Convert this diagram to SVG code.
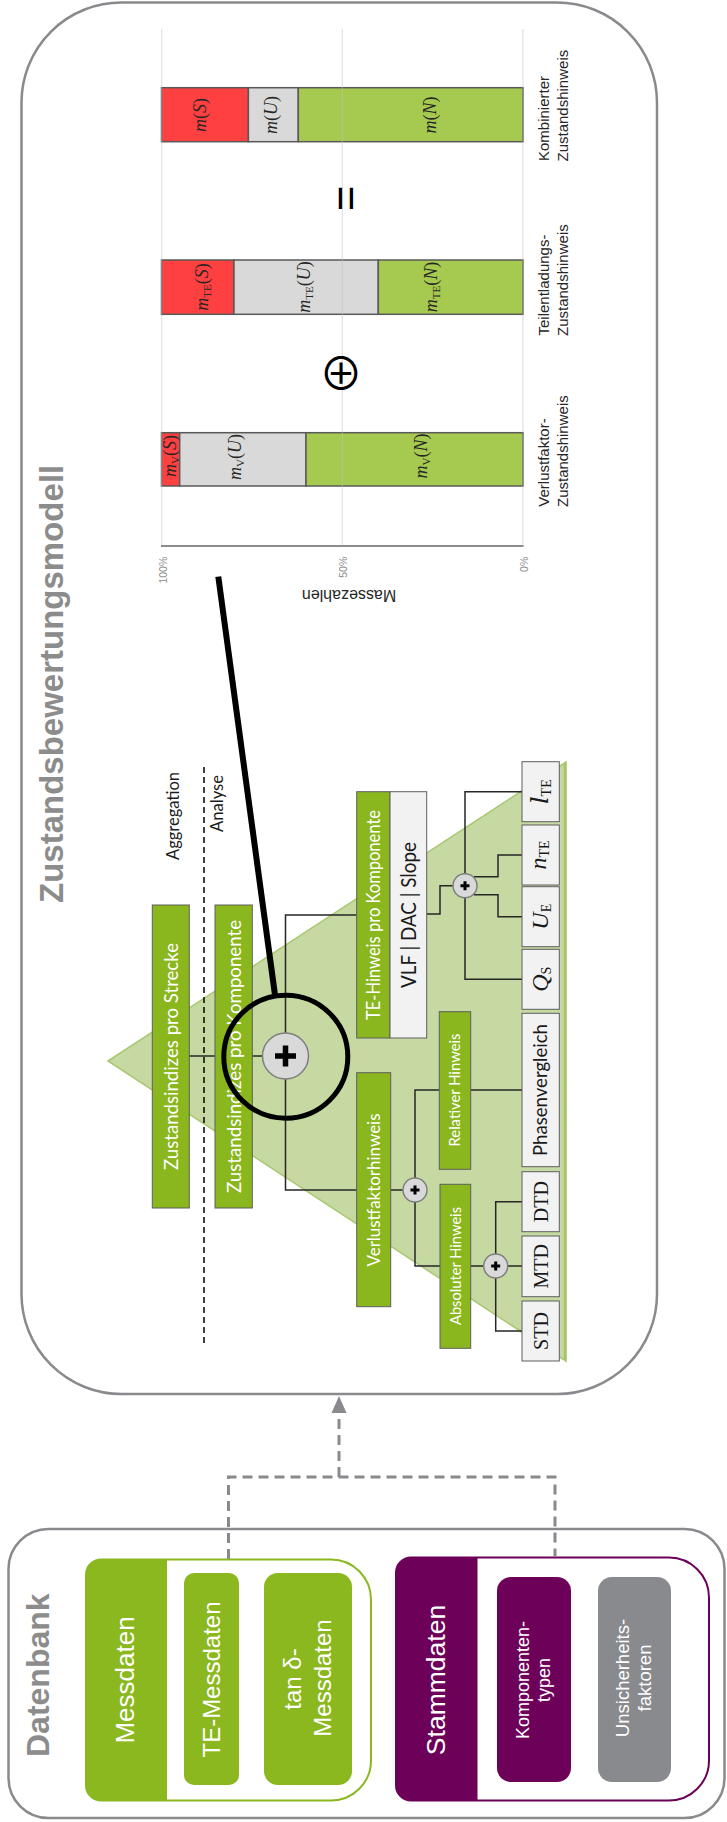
<svg xmlns="http://www.w3.org/2000/svg" width="727" height="1822" viewBox="0 0 727 1822">
<style>
.frame{fill:#fff;stroke:#8a8a8e;stroke-width:2.5}
.title{font-family:"Liberation Sans",Arial,sans-serif;font-weight:bold;fill:#8c8c8c}
.db{font-family:"Liberation Sans",Arial,sans-serif;fill:#fff;text-anchor:middle}
.gbox{fill:#8ab61e;stroke:#5e5e5e;stroke-width:1}
.wbox{fill:#f2f2f2;stroke:#5e5e5e;stroke-width:1}
.leaf{fill:#f2f2f2;stroke:#5e5e5e;stroke-width:1}
.wt{font-family:Lato,"Liberation Sans",sans-serif;fill:#fff;text-anchor:middle}
.bt{font-family:Lato,"Liberation Sans",sans-serif;fill:#1a1a1a;text-anchor:middle}
.serif{font-family:"Liberation Serif","DejaVu Serif",serif;fill:#1a1a1a;text-anchor:middle}
.ml{font-family:"Liberation Serif","DejaVu Serif",serif;font-size:18px;fill:#262626;text-anchor:middle}
.it{font-style:italic}
.conn{fill:none;stroke:#262626;stroke-width:1.5}
.plus{fill:#d9d9d9;stroke:#7f7f7f;stroke-width:1.5}
.pl{stroke:#000;fill:none}
.bar{stroke:#595959;stroke-width:1.5}
.cat{font-family:"Liberation Sans",Arial,sans-serif;font-size:15px;fill:#262626}
.tick{font-family:"Liberation Sans",Arial,sans-serif;font-size:10.5px;fill:#8c8c8c;text-anchor:end}
.dash{fill:none;stroke:#8a8a8e;stroke-width:3;stroke-dasharray:10 6}
.grid{stroke:#bfbfbf;stroke-opacity:0.55;stroke-width:1}
</style>

<!-- Datenbank -->
<g id="datenbank">
  <rect class="frame" x="8.5" y="1529" width="716" height="289" rx="40" ry="40"/>
  <text class="title" font-size="32" transform="translate(48.7,1757) rotate(-90)">Datenbank</text>
</g>
<g id="messdaten">
  <path d="M101,1559.5 H331 A40,40 0 0 1 371,1599.5 V1760.5 A40,40 0 0 1 331,1800.5 H101 A15,15 0 0 1 86,1785.5 V1574.5 A15,15 0 0 1 101,1559.5 Z" fill="#fff" stroke="#8ab81e" stroke-width="2"/>
  <path d="M101,1559.5 H167 V1800.5 H101 A15,15 0 0 1 86,1785.5 V1574.5 A15,15 0 0 1 101,1559.5 Z" fill="#8ab81e"/>
  <text class="db" font-size="26" transform="translate(134,1680) rotate(-90)">Messdaten</text>
</g>
<g id="te-messdaten">
  <rect x="184" y="1573" width="55" height="212" rx="10" fill="#8ab81e"/>
  <text class="db" font-size="24" transform="translate(220,1679.5) rotate(-90)">TE-Messdaten</text>
</g>
<g id="tan-messdaten">
  <rect x="264" y="1573" width="88" height="212" rx="14" fill="#8ab81e"/>
  <text class="db" font-size="24" transform="translate(301,1679) rotate(-90)">tan δ-</text>
  <text class="db" font-size="24" transform="translate(331,1678) rotate(-90)">Messdaten</text>
</g>
<g id="stammdaten">
  <path d="M411,1557.5 H669 A40,40 0 0 1 709,1597.5 V1760.5 A40,40 0 0 1 669,1800.5 H411 A15,15 0 0 1 396,1785.5 V1572.5 A15,15 0 0 1 411,1557.5 Z" fill="#fff" stroke="#6d0059" stroke-width="2"/>
  <path d="M411,1557.5 H477.5 V1800.5 H411 A15,15 0 0 1 396,1785.5 V1572.5 A15,15 0 0 1 411,1557.5 Z" fill="#6d0059"/>
  <text class="db" font-size="26.5" transform="translate(445,1680) rotate(-90)">Stammdaten</text>
</g>
<g id="komponententypen">
  <rect x="497" y="1577" width="74" height="205" rx="14" fill="#6d0059"/>
  <text class="db" font-size="18" transform="translate(528.5,1680) rotate(-90)">Komponenten-</text>
  <text class="db" font-size="18" transform="translate(550,1680) rotate(-90)">typen</text>
</g>
<g id="unsicherheitsfaktoren">
  <rect x="598" y="1577" width="73" height="205" rx="14" fill="#898a8e"/>
  <text class="db" font-size="18.5" transform="translate(629,1678) rotate(-90)">Unsicherheits-</text>
  <text class="db" font-size="18.5" transform="translate(651.4,1678) rotate(-90)">faktoren</text>
</g>

<!-- Model frame -->
<g id="zustandsbewertungsmodell">
  <rect class="frame" x="21.5" y="2.5" width="635.5" height="1391.5" rx="100" ry="100"/>
  <text class="title" font-size="33" transform="translate(63,903) rotate(-90)">Zustandsbewertungsmodell</text>
</g>

<!-- Pyramid -->
<g id="pyramide">
  <polygon points="108,1061 566,762 566,1361" fill="#c6d9a2" stroke="#a9c770" stroke-width="1.5"/>
  <line x1="565" y1="763" x2="565" y2="1360" stroke="#a6c66a" stroke-width="2.5"/>
  <line x1="204" y1="767" x2="204" y2="1347" stroke="#000" stroke-width="1.5" stroke-dasharray="6 4"/>
  <text class="bt" font-size="18" style="text-anchor:start" textLength="88" lengthAdjust="spacingAndGlyphs" transform="translate(179,860) rotate(-90)">Aggregation</text>
  <text class="bt" font-size="18" style="text-anchor:start" textLength="57" lengthAdjust="spacingAndGlyphs" transform="translate(223,832) rotate(-90)">Analyse</text>
</g>

<!-- Connectors -->
<g id="connectors">
  <path class="dash" d="M228.5,1559 V1477 H555 V1557"/>
  <path class="dash" d="M339,1477 V1413"/>
  <polygon points="339,1396 331.5,1413 346.5,1413" fill="#8a8a8e"/>
  <path class="conn" d="M189,1056 H215"/>
  <path class="conn" d="M252,1056 H262.5"/>
  <path class="conn" d="M285.5,1033 V915 H356.7"/>
  <path class="conn" d="M285.5,1079 V1190 H356.7"/>
  <path class="conn" d="M390.7,1190 H403"/>
  <path class="conn" d="M415,1178 V1090 H439.3"/>
  <path class="conn" d="M415,1202 V1266 H440"/>
  <path class="conn" d="M470.7,1090 H522"/>
  <path class="conn" d="M470.7,1266 H483.7"/>
  <path class="conn" d="M495.7,1254 V1201.7 H522"/>
  <path class="conn" d="M507.7,1266 H522"/>
  <path class="conn" d="M495.7,1278 V1331 H522"/>
  <path class="conn" d="M426.7,914 H440 V885.7 H453"/>
  <path class="conn" d="M465,873.7 V791.7 H522"/>
  <path class="conn" d="M474,876.7 H498 V855 H522"/>
  <path class="conn" d="M474,894.7 H498 V916.7 H522"/>
  <path class="conn" d="M465,897.7 V979.3 H522"/>
</g>

<!-- Tree nodes -->
<g id="zustandsindizes-strecke">
  <rect class="gbox" x="152.3" y="905" width="37" height="303"/>
  <text class="wt" font-size="19" textLength="227" lengthAdjust="spacingAndGlyphs" transform="translate(170.7,1056.5) rotate(-90)" y="6.8">Zustandsindizes pro Strecke</text>
</g>
<g id="zustandsindizes-komponente">
  <rect class="gbox" x="215" y="905" width="37.3" height="303"/>
  <text class="wt" font-size="19" textLength="273" lengthAdjust="spacingAndGlyphs" transform="translate(233.7,1056.5) rotate(-90)" y="6.8">Zustandsindizes pro Komponente</text>
</g>
<g id="verknuepfung-komponente">
  <circle class="plus" cx="285.5" cy="1056" r="23"/>
  <path class="pl" stroke-width="5.5" d="M275,1056 H296 M285.5,1045.5 V1066.5"/>
</g>
<g id="te-hinweis">
  <rect class="gbox" x="356.7" y="791.7" width="33.3" height="246.3"/>
  <rect class="wbox" x="390" y="791.7" width="36.7" height="246.3"/>
  <text class="wt" font-size="19" textLength="210" lengthAdjust="spacingAndGlyphs" transform="translate(373.3,915) rotate(-90)" y="6.8">TE-Hinweis pro Komponente</text>
  <text class="bt" font-size="21" textLength="146" lengthAdjust="spacingAndGlyphs" transform="translate(408.3,915) rotate(-90)" y="7.5">VLF | DAC | Slope</text>
</g>
<g id="verlustfaktorhinweis">
  <rect class="gbox" x="356.7" y="1072.7" width="34" height="234"/>
  <text class="wt" font-size="17" textLength="153" lengthAdjust="spacingAndGlyphs" transform="translate(373.7,1190) rotate(-90)" y="6">Verlustfaktorhinweis</text>
</g>
<g id="verknuepfung-verlustfaktor">
  <circle class="plus" cx="415" cy="1190" r="12"/>
  <path class="pl" stroke-width="3" d="M410.5,1190 H419.5 M415,1185.5 V1194.5"/>
</g>
<g id="relativer-hinweis">
  <rect class="gbox" x="439.3" y="1011.7" width="31.4" height="157.6"/>
  <text class="wt" font-size="15" textLength="113" lengthAdjust="spacingAndGlyphs" transform="translate(455,1090) rotate(-90)" y="5.4">Relativer Hinweis</text>
</g>
<g id="absoluter-hinweis">
  <rect class="gbox" x="440" y="1184.3" width="30.7" height="164"/>
  <text class="wt" font-size="15" textLength="118" lengthAdjust="spacingAndGlyphs" transform="translate(455.3,1266) rotate(-90)" y="5.4">Absoluter Hinweis</text>
</g>
<g id="verknuepfung-absolut">
  <circle class="plus" cx="495.7" cy="1266" r="12"/>
  <path class="pl" stroke-width="3" d="M491.2,1266 H500.2 M495.7,1261.5 V1270.5"/>
</g>
<g id="verknuepfung-te">
  <circle class="plus" cx="465" cy="885.7" r="12"/>
  <path class="pl" stroke-width="3" d="M460.5,885.7 H469.5 M465,881.2 V890.2"/>
</g>
<g id="leaf-lte">
  <rect class="leaf" x="522" y="761.7" width="37.3" height="60"/>
  <text class="serif" font-size="24" transform="translate(540.5,791.7) rotate(-90)" y="7"><tspan class="it" font-family="DejaVu Serif, serif">l</tspan><tspan font-size="14" dy="3">TE</tspan></text>
</g>
<g id="leaf-nte">
  <rect class="leaf" x="522" y="825" width="37.3" height="60"/>
  <text class="serif" font-size="24" transform="translate(540.5,855) rotate(-90)" y="5"><tspan class="it">n</tspan><tspan font-size="14" dy="3">TE</tspan></text>
</g>
<g id="leaf-ue">
  <rect class="leaf" x="522" y="886.7" width="37.3" height="60"/>
  <text class="serif" font-size="24" transform="translate(540.5,916.7) rotate(-90)" y="7"><tspan class="it">U</tspan><tspan font-size="14" dy="3">E</tspan></text>
</g>
<g id="leaf-qs">
  <rect class="leaf" x="522" y="949.3" width="37.3" height="60"/>
  <text class="serif" font-size="24" transform="translate(540.5,979.3) rotate(-90)" y="7"><tspan class="it">Q</tspan><tspan font-size="14" dy="3">S</tspan></text>
</g>
<g id="leaf-phasenvergleich">
  <rect class="leaf" x="522" y="1013.3" width="37.3" height="153.4"/>
  <text class="bt" font-size="19" textLength="132" lengthAdjust="spacingAndGlyphs" transform="translate(540.5,1090) rotate(-90)" y="6.8">Phasenvergleich</text>
</g>
<g id="leaf-dtd">
  <rect class="leaf" x="522" y="1171.7" width="37.3" height="60"/>
  <text class="serif" font-size="20" transform="translate(540.5,1201.7) rotate(-90)" y="7">DTD</text>
</g>
<g id="leaf-mtd">
  <rect class="leaf" x="522" y="1236" width="37.3" height="60.7"/>
  <text class="serif" font-size="20" transform="translate(540.5,1266.3) rotate(-90)" y="7">MTD</text>
</g>
<g id="leaf-std">
  <rect class="leaf" x="522" y="1301" width="37.3" height="60"/>
  <text class="serif" font-size="20" transform="translate(540.5,1331) rotate(-90)" y="7">STD</text>
</g>

<!-- Magnifier -->
<g id="lupe">
  <ellipse cx="285.8" cy="1056.7" rx="62" ry="61.5" fill="none" stroke="#000" stroke-width="5"/>
  <line x1="218.3" y1="576.7" x2="275" y2="995" stroke="#000" stroke-width="6"/>
</g>

<!-- Chart -->
<g id="diagramm">
  <g id="bar-kombiniert">
    <rect class="bar" x="161.5" y="87.7" width="86.9" height="54" fill="#ff4040"/>
    <rect class="bar" x="248.4" y="87.7" width="49.9" height="54" fill="#d9d9d9"/>
    <rect class="bar" x="298.3" y="87.7" width="224.7" height="54" fill="#a6c94f"/>
    <text class="ml" transform="translate(201,115) rotate(-90)" y="5.4"><tspan class="it">m</tspan>(<tspan class="it">S</tspan>)</text>
    <text class="ml" transform="translate(272,115) rotate(-90)" y="5.4"><tspan class="it">m</tspan>(<tspan class="it">U</tspan>)</text>
    <text class="ml" transform="translate(431,115) rotate(-90)" y="5.4"><tspan class="it">m</tspan>(<tspan class="it">N</tspan>)</text>
  </g>
  <g id="bar-te">
    <rect class="bar" x="161.5" y="260" width="72.5" height="54.3" fill="#ff4040"/>
    <rect class="bar" x="234" y="260" width="144.3" height="54.3" fill="#d9d9d9"/>
    <rect class="bar" x="378.3" y="260" width="144.7" height="54.3" fill="#a6c94f"/>
    <text class="ml" transform="translate(203,287) rotate(-90)" y="5.4"><tspan class="it">m</tspan><tspan font-size="11" dy="3">TE</tspan><tspan dy="-3">(</tspan><tspan class="it">S</tspan>)</text>
    <text class="ml" transform="translate(305,287) rotate(-90)" y="5.4"><tspan class="it">m</tspan><tspan font-size="11" dy="3">TE</tspan><tspan dy="-3">(</tspan><tspan class="it">U</tspan>)</text>
    <text class="ml" transform="translate(431.5,287) rotate(-90)" y="5.4"><tspan class="it">m</tspan><tspan font-size="11" dy="3">TE</tspan><tspan dy="-3">(</tspan><tspan class="it">N</tspan>)</text>
  </g>
  <g id="bar-verlustfaktor">
    <rect class="bar" x="161.5" y="432.7" width="18.2" height="53.3" fill="#ff4040"/>
    <rect class="bar" x="179.7" y="432.7" width="126.3" height="53.3" fill="#d9d9d9"/>
    <rect class="bar" x="306" y="432.7" width="217" height="53.3" fill="#a6c94f"/>
    <text class="ml" transform="translate(171,456) rotate(-90)" y="5.4"><tspan class="it">m</tspan><tspan font-size="11" dy="3">V</tspan><tspan dy="-3">(</tspan><tspan class="it">S</tspan>)</text>
    <text class="ml" transform="translate(236,457) rotate(-90)" y="5.4"><tspan class="it">m</tspan><tspan font-size="11" dy="3">V</tspan><tspan dy="-3">(</tspan><tspan class="it">U</tspan>)</text>
    <text class="ml" transform="translate(422,456) rotate(-90)" y="5.4"><tspan class="it">m</tspan><tspan font-size="11" dy="3">V</tspan><tspan dy="-3">(</tspan><tspan class="it">N</tspan>)</text>
  </g>
  <line class="grid" x1="161.7" y1="29" x2="161.7" y2="546"/>
  <line class="grid" x1="342.3" y1="29" x2="342.3" y2="546"/>
  <line class="grid" x1="523" y1="29" x2="523" y2="546"/>
  <line x1="161" y1="546" x2="523.5" y2="546" stroke="#8c8c8c" stroke-width="2"/>
  <text class="tick" transform="translate(166.5,556.7) rotate(-90)">100%</text>
  <text class="tick" transform="translate(347,556.7) rotate(-90)">50%</text>
  <text class="tick" transform="translate(528,556.7) rotate(-90)">0%</text>
  <text font-family="Liberation Sans, Arial, sans-serif" font-size="16" fill="#262626" text-anchor="middle" transform="translate(349,590) rotate(180)">Massezahlen</text>
  <text font-family="Noto Sans CJK JP, DejaVu Sans, sans-serif" font-size="44" fill="#000" text-anchor="middle" x="341" y="390">⊕</text>
  <text font-family="Liberation Sans, Arial, sans-serif" font-size="44" fill="#000" text-anchor="middle" transform="translate(360.7,198.3) rotate(-90)">=</text>
  <text class="cat" transform="translate(549,161) rotate(-90)">Kombinierter</text>
  <text class="cat" transform="translate(568,161.5) rotate(-90)">Zustandshinweis</text>
  <text class="cat" transform="translate(549,335.5) rotate(-90)">Teilentladungs-</text>
  <text class="cat" transform="translate(568,336) rotate(-90)">Zustandshinweis</text>
  <text class="cat" transform="translate(549,506.7) rotate(-90)">Verlustfaktor-</text>
  <text class="cat" transform="translate(568,507) rotate(-90)">Zustandshinweis</text>
</g>
</svg>
